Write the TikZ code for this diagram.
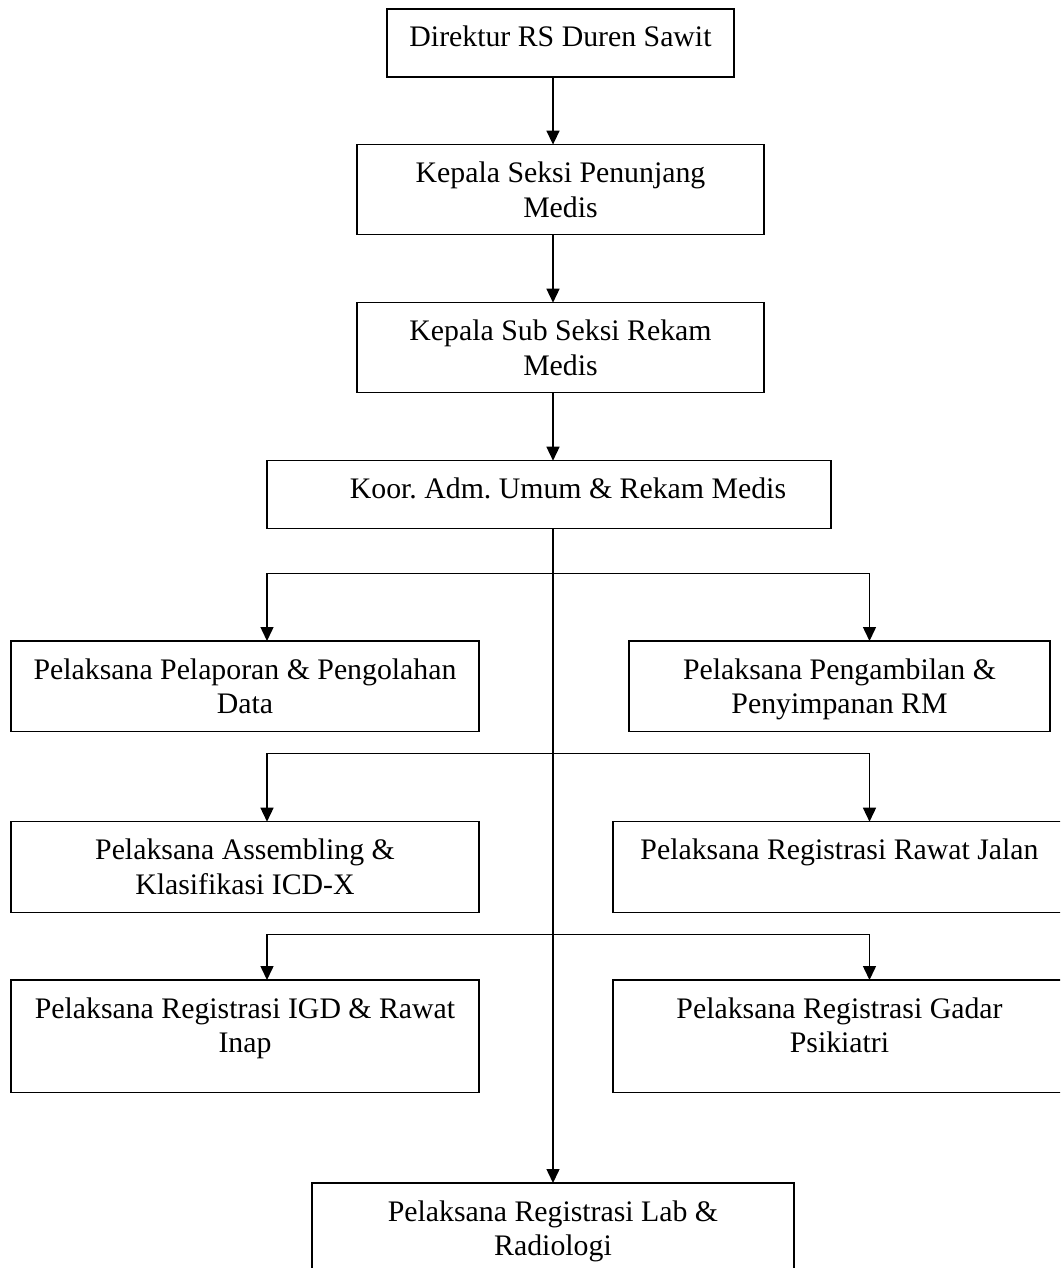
\documentclass[tikz,border=0pt]{standalone}
\usepackage{fontspec}
\setmainfont{Liberation Serif}
\usetikzlibrary{arrows.meta}
\frenchspacing
\tikzset{
  orgbox/.style={draw=black, line width=1.5pt, rectangle, inner sep=0pt, outer sep=0pt},
  orgtext/.style={inner sep=0pt, outer sep=0pt, align=center, anchor=north,
    font=\fontsize{29.8}{34.5}\selectfont\frenchspacing},
  conn/.style={line width=1.5pt, -{Triangle[length=14pt,width=13pt]}},
  branch/.style={line width=1.5pt, line join=miter,
    {Triangle[length=14pt,width=13pt]}-{Triangle[length=14pt,width=13pt]}}
}
% name, x1, y1, x2, y2, text centre x, text
\newcommand\orgnode[7]{%
  \node[orgbox, minimum width={#4-#2}, minimum height={#5-#3}] (#1) at ({(#2+#4)/2},{(#3+#5)/2}) {};
  \node[orgtext] (#1t) at (#6,{#3+13.85}) {\strut #7};
}
\begin{document}
\begin{tikzpicture}[x=1pt,y=-1pt]
\useasboundingbox (0,0) rectangle (1060,1268);
\clip (0,0) rectangle (1060,1268);
\fill[white] (0,0) rectangle (1060,1268);

\orgnode{b1}{387}{9}{734}{77}{560.5}{Direktur RS Duren Sawit}
\orgnode{b2}{357}{144.6}{764}{234.7}{560.5}{Kepala Seksi Penunjang\\Medis}
\orgnode{b3}{357}{302.7}{764}{392.7}{560.5}{Kepala Sub Seksi Rekam\\Medis}
\orgnode{b4}{267}{460.7}{831}{528.3}{568}{Koor. Adm. Umum \& Rekam Medis}
\orgnode{b5}{11}{641}{479}{731.5}{245}{Pelaksana Pelaporan \& Pengolahan\\Data}
\orgnode{b6}{629}{641}{1050}{731.5}{839.5}{Pelaksana Pengambilan \&\\Penyimpanan RM}
\orgnode{b7}{11}{821.7}{479}{912.3}{245}{Pelaksana Assembling \&\\Klasifikasi ICD-X}
\orgnode{b8}{613}{821.7}{1066}{912.3}{839.5}{Pelaksana Registrasi Rawat Jalan}
\orgnode{b9}{11}{980}{479}{1092.7}{245}{Pelaksana Registrasi IGD \& Rawat\\Inap}
\orgnode{b10}{613}{980}{1066}{1092.7}{839.5}{Pelaksana Registrasi Gadar\\Psikiatri}
\orgnode{b11}{312}{1183}{794}{1300}{553}{Pelaksana Registrasi Lab \&\\Radiologi}

\coordinate (sp) at (553,0);
\coordinate (L) at (267,0);
\coordinate (R) at (869.5,0);
\coordinate (j1) at (553,573.3);
\coordinate (j2) at (553,753.7);
\coordinate (j3) at (553,934.3);

\draw[conn] (b1.south -| sp) -- (b2.north -| sp);
\draw[conn] (b2.south -| sp) -- (b3.north -| sp);
\draw[conn] (b3.south -| sp) -- (b4.north -| sp);
\draw[conn] (b4.south -| sp) -- (b11.north -| sp);

\draw[branch] (b5.north -| L) -- (L |- j1) -- (R |- j1) -- (b6.north -| R);
\draw[branch] (b7.north -| L) -- (L |- j2) -- (R |- j2) -- (b8.north -| R);
\draw[branch] (b9.north -| L) -- (L |- j3) -- (R |- j3) -- (b10.north -| R);
\end{tikzpicture}
\end{document}
